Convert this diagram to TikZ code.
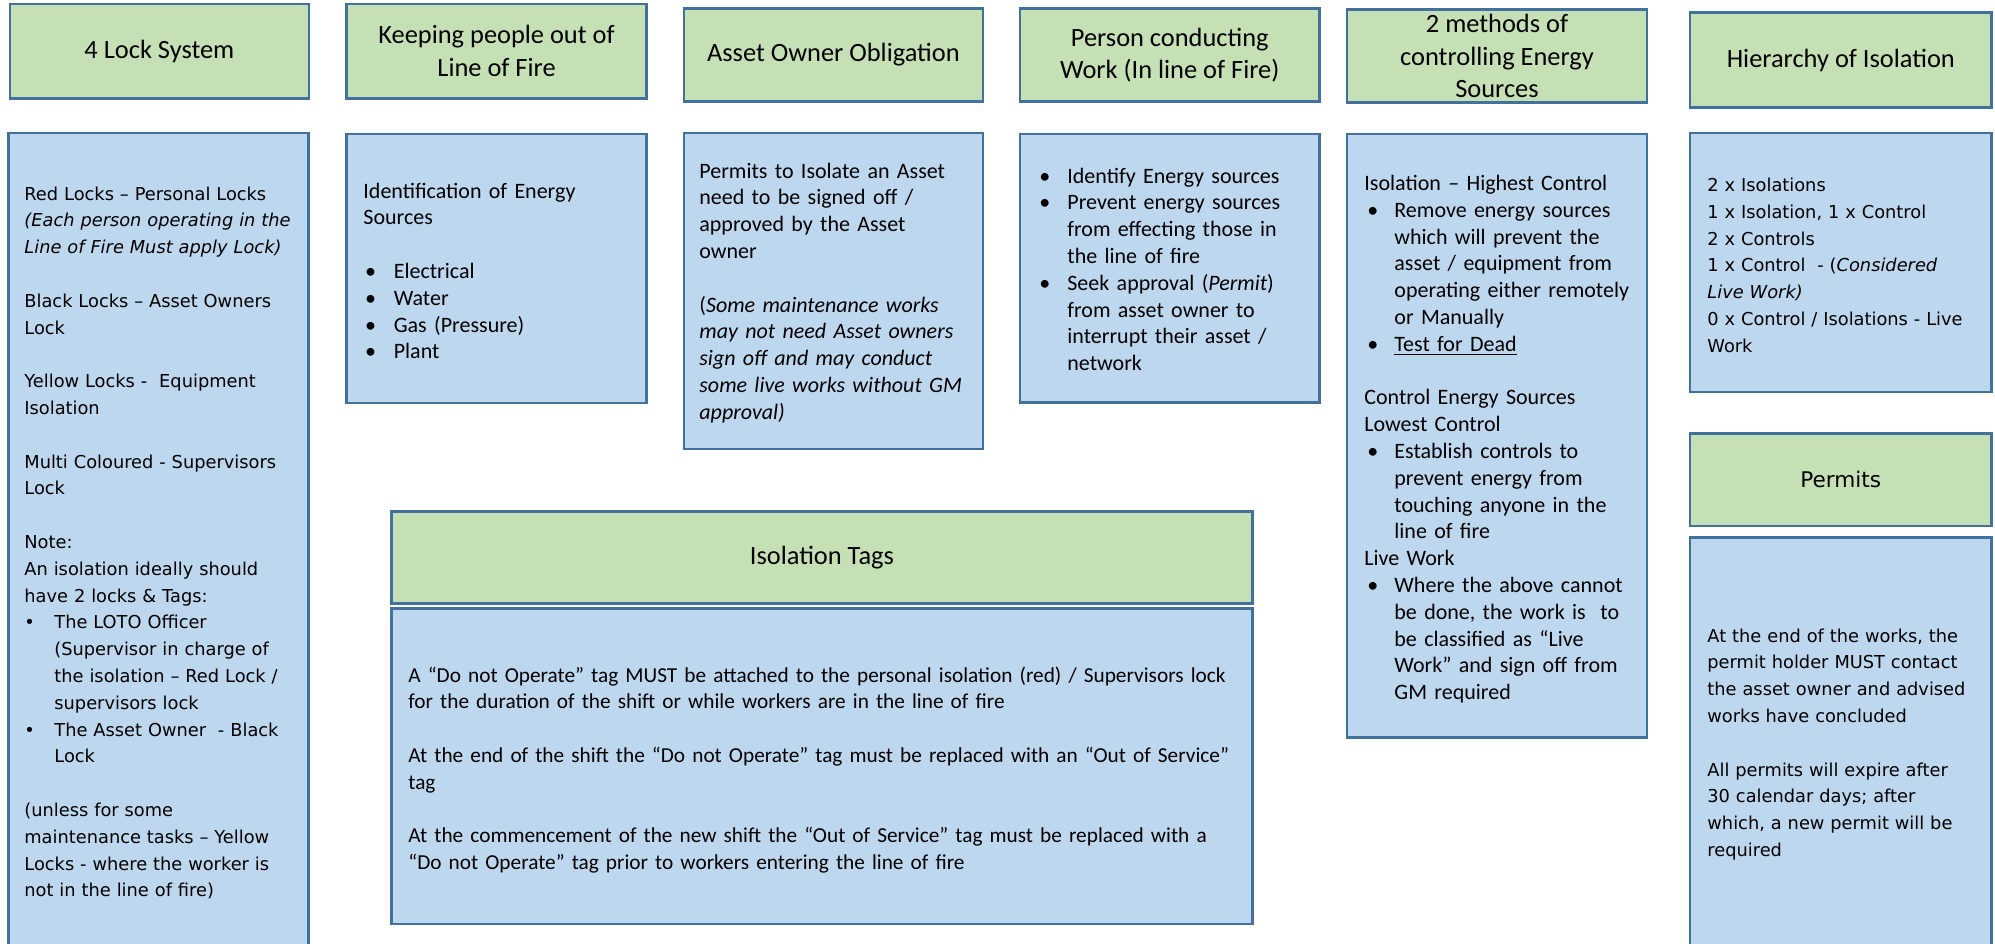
\documentclass[tikz,border=0pt]{standalone}
\usepackage{fontspec}
\setmainfont{Carlito}
\newfontfamily\vfont{DejaVu Sans}
\definecolor{hdrgreen}{RGB}{197,224,180}
\definecolor{bodyblue}{RGB}{189,215,238}
\definecolor{edgeblue}{RGB}{65,113,156}
\newcommand\bul[2]{\hspace*{#1}\makebox[#2][l]{\textbullet}}
\newcommand\hng[1]{\hspace*{#1}}
\newcommand\gapl{\\[13.4pt]}
\newcommand\panel[7]{\node[#1, anchor=north west, minimum width={(#5-#3)*0.5pt}, minimum height={(#6-#4)*0.5pt}] (#2) at (#3,#4) {#7};}
\tikzset{
  hdrbox/.style={draw=edgeblue, fill=hdrgreen, line width=1.3pt, inner sep=0pt, outer sep=0pt,
    align=center, font=\fontsize{13.2}{16.3}\selectfont},
  bodybox/.style={draw=edgeblue, fill=bodyblue, line width=1.3pt, inner sep=0pt, outer sep=0pt},
  caltext/.style={align=left, anchor=base west, inner sep=0pt, text width=#1,
    font=\fontsize{11}{13.4}\selectfont},
  vertext/.style={align=left, anchor=base west, inner sep=0pt, text width=#1,
    font=\vfont\fontsize{8.9}{13.4}\selectfont},
}
\begin{document}
\begin{tikzpicture}[x=0.5pt,y=-0.5pt]
\useasboundingbox (0,0) rectangle (1995,943);
\clip (0,0) rectangle (1995,943);
% header boxes
\panel{hdrbox}{h1}{9.8}{4}{309}{98.3}{4 Lock System}
\panel{hdrbox}{h2}{346.5}{4}{646.6}{98.3}{Keeping people out of\\Line of Fire}
\panel{hdrbox}{h3}{683.8}{8.3}{983}{101.7}{Asset Owner Obligation}
\panel{hdrbox}{h4}{1020}{8.3}{1319.5}{101.7}{Person conducting\\Work (In line of Fire)}
\panel{hdrbox}{h5}{1347}{9.3}{1647}{102.7}{2 methods of\\controlling Energy\\Sources}
\panel{hdrbox}{h6}{1690}{12.7}{1991.5}{107.3}{Hierarchy of Isolation}
\panel{hdrbox}{ph}{1690}{433.4}{1991.5}{525.8}{\vfont\fontsize{10.8}{13}\selectfont Permits}
\panel{hdrbox}{ih}{391.5}{511.7}{1252.4}{603.3}{Isolation Tags}
% body boxes
\panel{bodybox}{b1}{8.3}{133}{308.3}{960}{}
\panel{bodybox}{b2}{346.5}{134}{646.6}{403}{}
\panel{bodybox}{b3}{683.8}{133}{983}{449}{}
\panel{bodybox}{b4}{1020}{134}{1319.5}{402.7}{}
\panel{bodybox}{b5}{1347}{134}{1647}{737.6}{}
\panel{bodybox}{b6}{1690}{133}{1991.5}{392}{}
\panel{bodybox}{pb}{1690}{537.3}{1991.5}{960}{}
\panel{bodybox}{ib}{391.5}{608.3}{1252.4}{924}{}
% body texts
\node[vertext=200pt] (t1) at (24,200) {Red Locks – Personal Locks\\
{\itshape (Each person operating in the}\\
{\itshape Line of Fire Must apply Lock)}\gapl
Black Locks – Asset Owners\\
Lock\gapl
Yellow Locks -\ \ Equipment\\
Isolation\gapl
Multi Coloured - Supervisors\\
Lock\gapl
Note:\\
An isolation ideally should\\
have 2 locks \& Tags:\\
\bul{0pt}{15pt}The LOTO Officer\\
\hng{15pt}(Supervisor in charge of\\
\hng{15pt}the isolation – Red Lock /\\
\hng{15pt}supervisors lock\\
\bul{0pt}{15pt}The Asset Owner\ \ - Black\\
\hng{15pt}Lock\gapl
(unless for some\\
maintenance tasks – Yellow\\
Locks - where the worker is\\
not in the line of fire)};
\node[caltext=200pt] (t2) at (363,198) {Identification of Energy\\
Sources\gapl
\bul{0.8pt}{14.4pt}Electrical\\
\bul{0.8pt}{14.4pt}Water\\
\bul{0.8pt}{14.4pt}Gas (Pressure)\\
\bul{0.8pt}{14.4pt}Plant};
\node[caltext=200pt] (t3) at (699,178) {Permits to Isolate an Asset\\
need to be signed off /\\
approved by the Asset\\
owner\gapl
({\itshape Some maintenance works}\\
{\itshape may not need Asset owners}\\
{\itshape sign off and may conduct}\\
{\itshape some live works without GM}\\
{\itshape approval)}};
\node[caltext=200pt] (t4) at (1039,183) {\bul{0pt}{14pt}Identify Energy sources\\
\bul{0pt}{14pt}Prevent energy sources\\
\hng{14pt}from effecting those in\\
\hng{14pt}the line of fire\\
\bul{0pt}{14pt}Seek approval ({\itshape Permit})\\
\hng{14pt}from asset owner to\\
\hng{14pt}interrupt their asset /\\
\hng{14pt}network};
\node[caltext=200pt] (t5) at (1364,190.5) {Isolation – Highest Control\\
\bul{1.5pt}{13.5pt}Remove energy sources\\
\hng{15pt}which will prevent the\\
\hng{15pt}asset / equipment from\\
\hng{15pt}operating either remotely\\
\hng{15pt}or Manually\\
\bul{1.5pt}{13.5pt}\underline{Test for Dead}\gapl
Control Energy Sources\\
Lowest Control\\
\bul{1.5pt}{13.5pt}Establish controls to\\
\hng{15pt}prevent energy from\\
\hng{15pt}touching anyone in the\\
\hng{15pt}line of fire\\
Live Work\\
\bul{1.5pt}{13.5pt}Where the above cannot\\
\hng{15pt}be done, the work is\ \ to\\
\hng{15pt}be classified as “Live\\
\hng{15pt}Work” and sign off from\\
\hng{15pt}GM required};
\node[vertext=200pt] (t6) at (1707,191.5) {2 x Isolations\\
1 x Isolation, 1 x Control\\
2 x Controls\\
1 x Control\ \ - ({\itshape Considered}\\
{\itshape Live Work)}\\
0 x Control / Isolations - Live\\
Work};
\node[vertext=200pt] (t7) at (1707,642) {At the end of the works, the\\
permit holder MUST contact\\
the asset owner and advised\\
works have concluded\gapl
All permits will expire after\\
30 calendar days; after\\
which, a new permit will be\\
required};
\node[caltext=500pt, font=\fontsize{10.65}{13.4}\selectfont] (t8) at (408,682) {A “Do not Operate” tag MUST be attached to the personal isolation (red) / Supervisors lock\\
for the duration of the shift or while workers are in the line of fire\gapl
At the end of the shift the “Do not Operate” tag must be replaced with an “Out of Service”\\
tag\gapl
At the commencement of the new shift the “Out of Service” tag must be replaced with a\\
“Do not Operate” tag prior to workers entering the line of fire};
\end{tikzpicture}
\end{document}
